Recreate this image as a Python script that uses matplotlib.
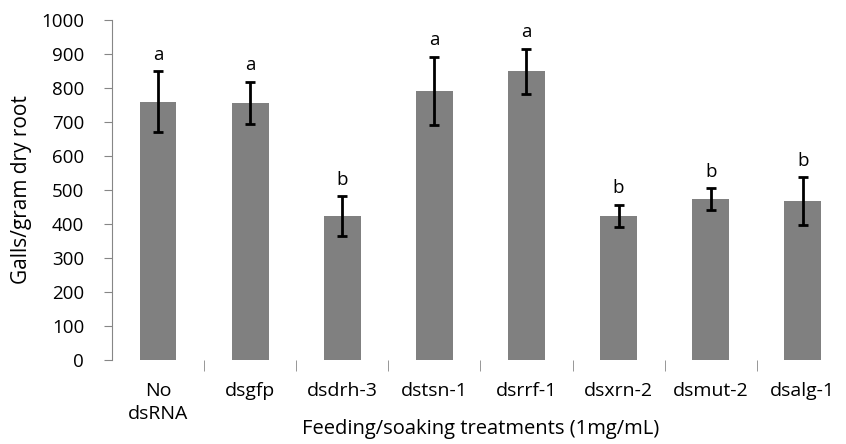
import matplotlib
matplotlib.use("Agg")
import matplotlib.pyplot as plt
import numpy as np

plt.rcParams['font.family'] = ['Open Sans', 'DejaVu Sans']

# galls per gram dry root
treatments = ['No\ndsRNA', 'dsgfp', 'dsdrh-3', 'dstsn-1', 'dsrrf-1',
              'dsxrn-2', 'dsmut-2', 'dsalg-1']
galls = [760, 757, 424, 792, 849, 424, 474, 468]
err = [90, 62, 58, 100, 67, 33, 32, 70]
letters = ['a', 'a', 'b', 'a', 'a', 'b', 'b', 'b']

fig = plt.figure(figsize=(8.46, 4.44), dpi=100)
ax = fig.add_axes([0.1324, 0.189, 0.871, 0.766])

x = np.arange(len(treatments))
ax.bar(x, galls, width=0.4, color='#808080', zorder=2)
ax.errorbar(x, galls, yerr=err, fmt='none', ecolor='black',
            elinewidth=2, capsize=3.5, capthick=2, zorder=3)

for xi, g, e, lab in zip(x, galls, err, letters):
    ax.text(xi, g + e + 22, lab, ha='center', va='bottom', fontsize=13.5)

ax.set_xlim(-0.5, len(treatments) - 0.5)
ax.set_ylim(0, 1000)
ax.set_yticks(np.arange(0, 1001, 100))

ax.set_xticks(x)
ax.set_xticklabels(treatments, fontsize=14, linespacing=1.35)
ax.set_xticks(np.arange(0.5, len(treatments) - 1, 1), minor=True)
ax.tick_params(axis='x', which='major', length=0, pad=16)
ax.tick_params(axis='x', which='minor', length=8, color='#868686',
               direction='out')
ax.tick_params(axis='y', length=6, color='#868686', labelsize=13.5, pad=14)

for s in ['top', 'right', 'bottom']:
    ax.spines[s].set_visible(False)
ax.spines['left'].set_color('#868686')

ax.set_ylabel('Galls/gram dry root', fontsize=15, labelpad=7)
ax.set_xlabel('Feeding/soaking treatments (1mg/mL)', fontsize=14.5,
              labelpad=-3)

fig.savefig('out.png', dpi=100)
